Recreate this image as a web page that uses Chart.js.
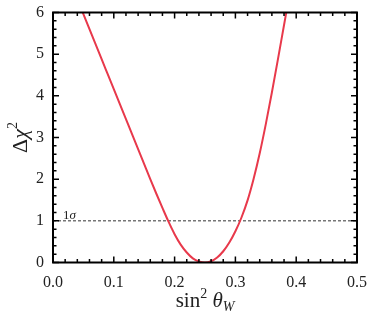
<!DOCTYPE html>
<html>
<head>
<meta charset="utf-8">
<script src="https://cdn.jsdelivr.net/npm/chart.js@4.4.1/dist/chart.umd.min.js"></script>
<style>
  html, body { margin: 0; padding: 0; background: #fff; }
  #wrap { width: 374px; height: 325px; }
</style>
</head>
<body>
<div id="wrap"><canvas id="chi2Chart" width="374" height="325"></canvas></div>
<script>
// valores
const sin2Theta = [0.04, 0.05, 0.06, 0.07, 0.08, 0.09, 0.10, 0.11, 0.12, 0.13, 0.14, 0.15, 0.16, 0.17, 0.18, 0.19,
                   0.20, 0.21, 0.22, 0.23, 0.24, 0.25, 0.26, 0.27, 0.28, 0.29, 0.30, 0.31, 0.32, 0.33, 0.34, 0.35,
                   0.36, 0.37, 0.38, 0.39];
const deltaChi2 = [6.32, 5.96, 5.60, 5.24, 4.88, 4.52, 4.16, 3.80, 3.44, 3.08, 2.72, 2.36, 2.00, 1.65, 1.31, 0.98,
                   0.68, 0.43, 0.24, 0.10, 0.025, 0.0, 0.03, 0.12, 0.27, 0.48, 0.75, 1.08, 1.49, 2.01, 2.62, 3.32,
                   4.08, 4.88, 5.70, 6.52];
const sigmaLevel = 1;
const xRange = [0, 0.5];
const yRange = [0, 6];
const xMajor = [0, 0.1, 0.2, 0.3, 0.4, 0.5];
const yMajor = [0, 1, 2, 3, 4, 5, 6];

const SERIF = "'Liberation Serif', 'DejaVu Serif', serif";

// marco con ticks hacia adentro en los cuatro lados
const frameTicks = {
    id: 'frameTicks',
    afterDatasetsDraw(chart) {
        const { ctx, chartArea: a, scales: { x, y } } = chart;
        ctx.save();
        ctx.strokeStyle = '#000';
        ctx.lineWidth = 1.5;
        // x: mayores cada 0.1, menores cada 0.02
        for (let i = 0; i <= 25; i++) {
            const px = x.getPixelForValue(i * 0.02);
            const len = i % 5 === 0 ? 6 : 3.5;
            ctx.beginPath();
            ctx.moveTo(px, a.bottom); ctx.lineTo(px, a.bottom - len);
            ctx.moveTo(px, a.top); ctx.lineTo(px, a.top + len);
            ctx.stroke();
        }
        // y: mayores cada 1, menores cada 0.2
        for (let i = 0; i <= 30; i++) {
            const py = y.getPixelForValue(i * 0.2);
            const len = i % 5 === 0 ? 6 : 3.5;
            ctx.beginPath();
            ctx.moveTo(a.left, py); ctx.lineTo(a.left + len, py);
            ctx.moveTo(a.right, py); ctx.lineTo(a.right - len, py);
            ctx.stroke();
        }
        ctx.lineWidth = 2;
        ctx.strokeRect(a.left, a.top, a.right - a.left, a.bottom - a.top);

        // etiqueta 1σ
        ctx.fillStyle = '#222';
        ctx.textBaseline = 'alphabetic';
        ctx.textAlign = 'left';
        const ly = y.getPixelForValue(sigmaLevel) - 2;
        ctx.font = '13px ' + SERIF;
        ctx.fillText('1', a.left + 10, ly);
        const w1 = ctx.measureText('1').width;
        ctx.font = 'italic 13px ' + SERIF;
        ctx.fillText('σ', a.left + 10 + w1, ly);

        // título eje x: sin² θ_W
        const parts = [
            { t: 'sin', f: '21px ' + SERIF, dy: 0 },
            { t: '2', f: '14px ' + SERIF, dy: -9 },
            { t: ' ', f: '21px ' + SERIF, dy: 0 },
            { t: 'θ', f: 'italic 21px ' + SERIF, dy: 0 },
            { t: 'W', f: 'italic 14px ' + SERIF, dy: 4 }
        ];
        drawParts(ctx, parts, (a.left + a.right) / 2, 307);

        // título eje y: Δχ²
        ctx.translate(27, (a.top + a.bottom) / 2);
        ctx.rotate(-Math.PI / 2);
        drawParts(ctx, [
            { t: 'Δ', f: '22px ' + SERIF, dy: 0 },
            { t: 'χ', f: 'italic 22px ' + SERIF, dy: 0 },
            { t: '2', f: '14px ' + SERIF, dy: -10 }
        ], 0, 0);
        ctx.restore();
    }
};

function drawParts(ctx, parts, cx, baseY) {
    let total = 0;
    parts.forEach(p => { ctx.font = p.f; p.w = ctx.measureText(p.t).width; total += p.w; });
    let px = cx - total / 2;
    ctx.textAlign = 'left';
    parts.forEach(p => {
        ctx.font = p.f;
        ctx.fillText(p.t, px, baseY + p.dy);
        px += p.w;
    });
}

const curvePts = sin2Theta.map((v, i) => ({ x: v, y: deltaChi2[i] }));
const sigmaPts = xRange.map(v => ({ x: v, y: sigmaLevel }));

new Chart(document.getElementById('chi2Chart').getContext('2d'), {
    type: 'line',
    data: {
        datasets: [
            {
                data: curvePts,
                borderColor: '#e8394b',
                borderWidth: 2,
                pointRadius: 0,
                cubicInterpolationMode: 'monotone',
                clip: 0
            },
            {
                data: sigmaPts,
                borderColor: '#333',
                borderWidth: 1,
                borderDash: [3, 2],
                pointRadius: 0,
                clip: 0
            }
        ]
    },
    options: {
        responsive: false,
        animation: false,
        events: [],
        layout: { padding: { top: 12.5, right: 17, left: 0, bottom: 0 } },
        plugins: { legend: { display: false }, tooltip: { enabled: false } },
        scales: {
            x: {
                type: 'linear',
                min: xRange[0], max: xRange[1],
                afterBuildTicks: s => { s.ticks = xMajor.map(v => ({ value: v })); },
                afterFit: s => { s.height = 62.5; s.paddingLeft = 0; s.paddingRight = 0; },
                grid: { display: false, drawTicks: false },
                border: { display: false },
                ticks: {
                    padding: 11,
                    color: '#222',
                    font: { family: SERIF, size: 16 },
                    callback: v => v.toFixed(1)
                }
            },
            y: {
                type: 'linear',
                min: yRange[0], max: yRange[1],
                afterBuildTicks: s => { s.ticks = yMajor.map(v => ({ value: v })); },
                afterFit: s => { s.width = 53; s.paddingTop = 0; s.paddingBottom = 0; },
                grid: { display: false, drawTicks: false },
                border: { display: false },
                ticks: {
                    padding: 9,
                    color: '#222',
                    font: { family: SERIF, size: 16 },
                    callback: v => String(v)
                }
            }
        }
    },
    plugins: [frameTicks]
});
</script>
</body>
</html>
